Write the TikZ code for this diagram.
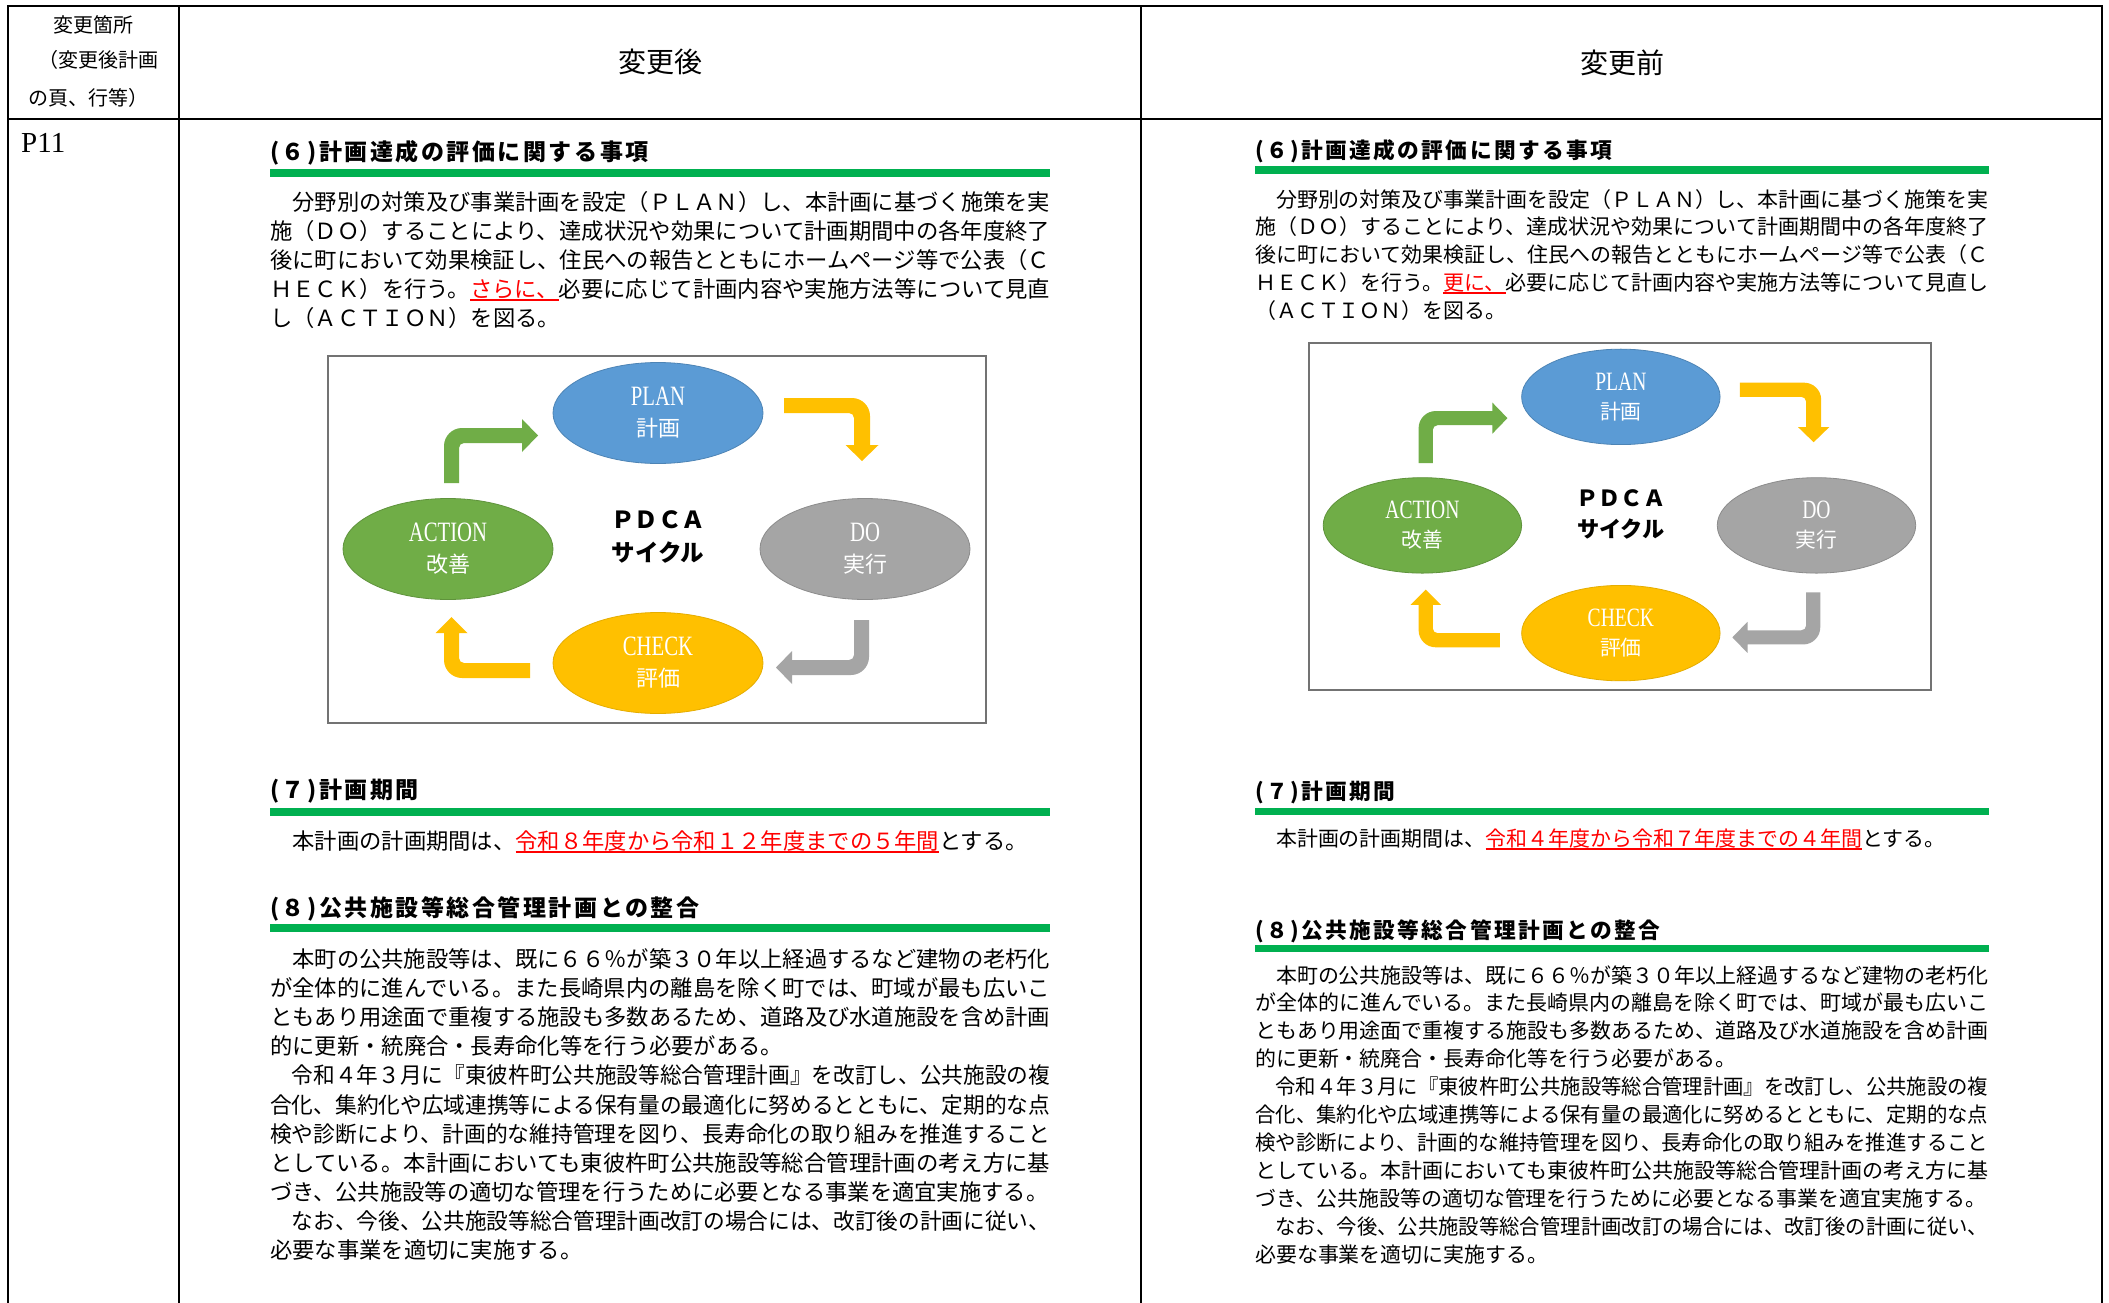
\documentclass[tikz,border=0pt]{standalone}
\usepackage{fontspec}
\usepackage{graphicx}
\usetikzlibrary{shapes.geometric}
\setmainfont{Noto Sans CJK JP}
\newfontfamily\serifL{Liberation Serif}
\newfontfamily\headfont{Noto Sans CJK JP}[LetterSpace=11]
\definecolor{cBlue}{HTML}{5B9BD5}
\definecolor{cGreen}{HTML}{70AD47}
\definecolor{cGray}{HTML}{A5A5A5}
\definecolor{cGold}{HTML}{FFC000}
\definecolor{barGreen}{HTML}{00B050}
\newcommand\redul[1]{\setbox0=\hbox{\textcolor{red}{#1}}\rlap{\textcolor{red}{\rule[-3.5pt]{\wd0}{1.6pt}}}\box0}
\newcommand\elat[1]{{\serifL\fontsize{28}{31}\selectfont\scalebox{0.74}[1]{#1}}}
\tikzset{
 tline/.style={line width=2.2pt, black},
 hdr/.style={inner sep=0, font=\fontsize{20}{24}\selectfont},
 ttl/.style={inner sep=0, font=\fontsize{28}{32}\selectfont},
 headL/.style={anchor=base west, inner sep=0, font=\headfont\bfseries\fontsize{23}{28}\selectfont},
 headR/.style={anchor=base west, inner sep=0, font=\headfont\bfseries\fontsize{21.7}{26}\selectfont},
 bodyL/.style={anchor=base west, inner sep=0, font=\fontsize{22.3}{29}\selectfont},
 bodyR/.style={anchor=base west, inner sep=0, font=\fontsize{20.94}{28}\selectfont},
 gbar/.style={fill=barGreen},
 ell/.style={ellipse, minimum width=210, minimum height=101, inner sep=0, text=white, align=center, font=\fontsize{22}{31}\selectfont, line width=0.8pt},
 pdcat/.style={inner sep=0, font=\bfseries\fontsize{23.5}{26}\selectfont},
 figbox/.style={draw=black!55, line width=1.6pt, fill=white},
}
\newcommand\pdcafig[1]{%
 \draw[figbox] (0,0) rectangle (658,367);
 \node[ell, fill=cBlue, draw=cBlue!85!black] (#1-plan) at (330,57) {\elat{PLAN}\\計画};
 \node[ell, fill=cGreen, draw=cGreen!85!black] (#1-act) at (120,193) {\elat{ACTION}\\改善};
 \node[ell, fill=cGray, draw=cGray!85!black] (#1-do) at (537,193) {\elat{DO}\\実行};
 \node[ell, fill=cGold, draw=cGold!90!black] (#1-chk) at (330,307) {\elat{CHECK}\\評価};
 \node[pdcat] (#1-pdca) at (330,164) {ＰＤＣＡ};
 \node[pdcat] (#1-cyc) at (330,197) {サイクル};
 \fill[cGreen] (116,127) -- (116,90) .. controls (116,80.1) and (124.1,72) .. (134,72) -- (194,72) -- (194,63) -- (210,79.5) -- (194,96) -- (194,87) -- (136,87) .. controls (133.2,87) and (131,89.2) .. (131,92) -- (131,127) -- cycle;
 \fill[cGold] (456,42) -- (524,42) .. controls (533.9,42) and (542,50.1) .. (542,60) -- (542,89) -- (550.5,89) -- (534,105) -- (517.5,89) -- (526,89) -- (526,62) .. controls (526,59.2) and (523.8,57) .. (521,57) -- (456,57) -- cycle;
 \fill[cGray] (526,264) -- (541,264) -- (541,301) .. controls (541,310.9) and (532.9,319) .. (523,319) -- (464,319) -- (464,328) -- (448,311.5) -- (464,295) -- (464,304) -- (521,304) .. controls (523.8,304) and (526,301.8) .. (526,299) -- cycle;
 \fill[cGold] (202,307) -- (202,322) -- (134,322) .. controls (124.1,322) and (116,313.9) .. (116,304) -- (116,277) -- (107.5,277) -- (123.5,261) -- (139.5,277) -- (131,277) -- (131,302) .. controls (131,304.8) and (133.2,307) .. (136,307) -- cycle;
}
\begin{document}
\begin{tikzpicture}[x=1pt,y=-1pt]
\fill[white] (0,0) rectangle (2109,1303);
\useasboundingbox (0,0) rectangle (2109,1303);
% table
\draw[tline] (7,6) -- (2103,6);
\draw[tline] (7,119) -- (2103,119);
\draw[tline] (8,6) -- (8,1303);
\draw[tline] (179,6) -- (179,1303);
\draw[tline] (1141,6) -- (1141,1303);
\draw[tline] (2102,6) -- (2102,1303);
% header
\node[hdr] (h1) at (93,25) {変更箇所};
\node[hdr] (h2) at (98,60) {（変更後計画};
\node[hdr] (h3) at (88,98) {の頁、行等）};
\node[ttl] (tA) at (660,62) {変更後};
\node[ttl] (tB) at (1622,63) {変更前};
\node[anchor=west, inner sep=0, font=\serifL\fontsize{29}{32}\selectfont] (p11) at (21,143) {P11};
% ===== left column =====
\node[headL] (L6h) at (270,160.7) {(６)計画達成の評価に関する事項};
\fill[gbar] (270,169) rectangle (1050,177);
\node[bodyL] (L6a) at (270,210.5) {\resizebox{780pt}{\height}{　分野別の対策及び事業計画を設定（ＰＬＡＮ）し、本計画に基づく施策を実}};
\node[bodyL] (L6b) at (270,239.5) {\resizebox{780pt}{\height}{施（ＤＯ）することにより、達成状況や効果について計画期間中の各年度終了}};
\node[bodyL] (L6c) at (270,268.5) {\resizebox{780pt}{\height}{後に町において効果検証し、住民への報告とともにホームページ等で公表（Ｃ}};
\node[bodyL] (L6d) at (270,297.5) {\resizebox{780pt}{\height}{ＨＥＣＫ）を行う。\redul{さらに、}必要に応じて計画内容や実施方法等について見直}};
\node[bodyL] (L6e) at (270,326.5) {し（ＡＣＴＩＯＮ）を図る。};
\begin{scope}[shift={(328,356)}]
\pdcafig{L}
\end{scope}
\node[headL] (L7h) at (270,798.7) {(７)計画期間};
\fill[gbar] (270,808) rectangle (1050,816);
\node[bodyL] (L7a) at (270,849.5) {　本計画の計画期間は、\redul{令和８年度から令和１２年度までの５年間}とする。};
\node[headL] (L8h) at (270,916.7) {(８)公共施設等総合管理計画との整合};
\fill[gbar] (270,924) rectangle (1050,932);
\node[bodyL] (L8a) at (270,967.5) {\resizebox{780pt}{\height}{　本町の公共施設等は、既に６６％が築３０年以上経過するなど建物の老朽化}};
\node[bodyL] (L8b) at (270,996.6) {\resizebox{780pt}{\height}{が全体的に進んでいる。また長崎県内の離島を除く町では、町域が最も広いこ}};
\node[bodyL] (L8c) at (270,1025.7) {\resizebox{780pt}{\height}{ともあり用途面で重複する施設も多数あるため、道路及び水道施設を含め計画}};
\node[bodyL] (L8d) at (270,1054.8) {的に更新・統廃合・長寿命化等を行う必要がある。};
\node[bodyL] (L8e) at (270,1083.9) {\resizebox{780pt}{\height}{　令和４年３月に『東彼杵町公共施設等総合管理計画』を改訂し、公共施設の複}};
\node[bodyL] (L8f) at (270,1113.0) {\resizebox{780pt}{\height}{合化、集約化や広域連携等による保有量の最適化に努めるとともに、定期的な点}};
\node[bodyL] (L8g) at (270,1142.1) {\resizebox{780pt}{\height}{検や診断により、計画的な維持管理を図り、長寿命化の取り組みを推進すること}};
\node[bodyL] (L8h) at (270,1171.2) {\resizebox{780pt}{\height}{としている。本計画においても東彼杵町公共施設等総合管理計画の考え方に基}};
\node[bodyL] (L8i) at (270,1200.3) {づき、公共施設等の適切な管理を行うために必要となる事業を適宜実施する。};
\node[bodyL] (L8j) at (270,1229.4) {\resizebox{780pt}{\height}{　なお、今後、公共施設等総合管理計画改訂の場合には、改訂後の計画に従い、}};
\node[bodyL] (L8k) at (270,1258.5) {必要な事業を適切に実施する。};
% ===== right column =====
\node[headR] (R6h) at (1255,158.2) {(６)計画達成の評価に関する事項};
\fill[gbar] (1255,166) rectangle (1989,174);
\node[bodyR] (R6a) at (1255,207) {\resizebox{733pt}{\height}{　分野別の対策及び事業計画を設定（ＰＬＡＮ）し、本計画に基づく施策を実}};
\node[bodyR] (R6b) at (1255,234.8) {\resizebox{733pt}{\height}{施（ＤＯ）することにより、達成状況や効果について計画期間中の各年度終了}};
\node[bodyR] (R6c) at (1255,262.6) {\resizebox{733pt}{\height}{後に町において効果検証し、住民への報告とともにホームページ等で公表（Ｃ}};
\node[bodyR] (R6d) at (1255,290.4) {\resizebox{733pt}{\height}{ＨＥＣＫ）を行う。\redul{更に、}必要に応じて計画内容や実施方法等について見直し}};
\node[bodyR] (R6e) at (1255,318.2) {（ＡＣＴＩＯＮ）を図る。};
\begin{scope}[shift={(1309,343)}, scale=0.945, transform shape]
\pdcafig{R}
\end{scope}
\node[headR] (R7h) at (1255,799.2) {(７)計画期間};
\fill[gbar] (1255,808) rectangle (1989,815);
\node[bodyR] (R7a) at (1255,846) {　本計画の計画期間は、\redul{令和４年度から令和７年度までの４年間}とする。};
\node[headR] (R8h) at (1255,938.2) {(８)公共施設等総合管理計画との整合};
\fill[gbar] (1255,945) rectangle (1989,952);
\node[bodyR] (R8a) at (1255,983) {\resizebox{733pt}{\height}{　本町の公共施設等は、既に６６％が築３０年以上経過するなど建物の老朽化}};
\node[bodyR] (R8b) at (1255,1010.9) {\resizebox{733pt}{\height}{が全体的に進んでいる。また長崎県内の離島を除く町では、町域が最も広いこ}};
\node[bodyR] (R8c) at (1255,1038.8) {\resizebox{733pt}{\height}{ともあり用途面で重複する施設も多数あるため、道路及び水道施設を含め計画}};
\node[bodyR] (R8d) at (1255,1066.7) {的に更新・統廃合・長寿命化等を行う必要がある。};
\node[bodyR] (R8e) at (1255,1094.6) {\resizebox{733pt}{\height}{　令和４年３月に『東彼杵町公共施設等総合管理計画』を改訂し、公共施設の複}};
\node[bodyR] (R8f) at (1255,1122.5) {\resizebox{733pt}{\height}{合化、集約化や広域連携等による保有量の最適化に努めるとともに、定期的な点}};
\node[bodyR] (R8g) at (1255,1150.4) {\resizebox{733pt}{\height}{検や診断により、計画的な維持管理を図り、長寿命化の取り組みを推進すること}};
\node[bodyR] (R8h) at (1255,1178.3) {\resizebox{733pt}{\height}{としている。本計画においても東彼杵町公共施設等総合管理計画の考え方に基}};
\node[bodyR] (R8i) at (1255,1206.2) {づき、公共施設等の適切な管理を行うために必要となる事業を適宜実施する。};
\node[bodyR] (R8j) at (1255,1234.1) {\resizebox{733pt}{\height}{　なお、今後、公共施設等総合管理計画改訂の場合には、改訂後の計画に従い、}};
\node[bodyR] (R8k) at (1255,1262) {必要な事業を適切に実施する。};
\end{tikzpicture}
\end{document}
